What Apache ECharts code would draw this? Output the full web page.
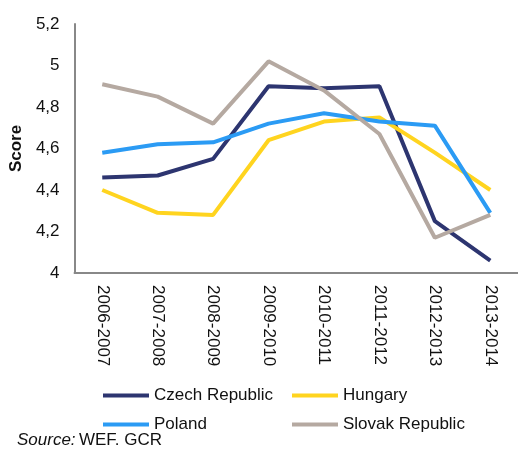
<!DOCTYPE html>
<html>
<head>
<meta charset="utf-8">
<script src="https://cdn.jsdelivr.net/npm/echarts@6/dist/echarts.min.js"></script>
<style>
  html, body { margin: 0; padding: 0; background: #fff; }
  #chart { width: 518px; height: 450px; }
</style>
</head>
<body>
<div id="chart"></div>
<script>
// Competitiveness scores (WEF Global Competitiveness Report)
const seasons = ['2006-2007', '2007-2008', '2008-2009', '2009-2010', '2010-2011', '2011-2012', '2012-2013', '2013-2014'];
const czechRepublic = [4.46, 4.47, 4.55, 4.90, 4.89, 4.90, 4.25, 4.06];
const hungary = [4.40, 4.29, 4.28, 4.64, 4.73, 4.75, 4.58, 4.40];
const poland = [4.58, 4.62, 4.63, 4.72, 4.77, 4.73, 4.71, 4.29];
const slovakRepublic = [4.91, 4.85, 4.72, 5.02, 4.88, 4.67, 4.17, 4.28];

const names = ['Czech Republic', 'Hungary', 'Poland', 'Slovak Republic'];
const values = [czechRepublic, hungary, poland, slovakRepublic];
const colors = ['#2d3570', '#ffd41f', '#2b9bf4', '#b5a9a1'];

const font = 'Liberation Sans, Arial, sans-serif';
const fontSize = 17;

const chart = echarts.init(document.getElementById('chart'));

// One legend block per cell of the 2x2 key
function legendCell(name, left, top) {
  return {
    left: left,
    top: top,
    padding: 0,
    icon: 'rect',
    itemWidth: 46,
    itemHeight: 4,
    itemTextGap: 3,
    data: [name],
    textStyle: { fontFamily: font, fontSize: fontSize, color: '#111' }
  };
}

chart.setOption({
  animation: false,
  color: colors,
  grid: { left: 74, right: -4, top: 24, bottom: 177 },
  legend: [
    legendCell('Czech Republic', 103, 387),
    legendCell('Hungary', 292, 387),
    legendCell('Poland', 103, 416),
    legendCell('Slovak Republic', 292, 416)
  ],
  xAxis: {
    type: 'category',
    data: seasons,
    boundaryGap: true,
    axisLine: { lineStyle: { color: '#888', width: 2 } },
    axisTick: { show: false },
    axisLabel: {
      rotate: -90,
      interval: 0,
      margin: 12,
      fontFamily: font,
      fontSize: fontSize,
      color: '#111'
    }
  },
  yAxis: {
    type: 'value',
    min: 4,
    max: 5.2,
    interval: 0.2,
    name: 'Score',
    nameLocation: 'middle',
    nameGap: 48,
    nameTextStyle: { fontFamily: font, fontSize: fontSize, fontWeight: 'bold', color: '#111' },
    axisLine: { show: true, lineStyle: { color: '#888', width: 2 } },
    axisTick: { show: false },
    splitLine: { show: false },
    axisLabel: {
      margin: 15,
      fontFamily: font,
      fontSize: fontSize,
      color: '#111',
      formatter: v => String(Math.round(v * 10) / 10).replace('.', ',')
    }
  },
  series: names.map((n, i) => ({
    name: n,
    type: 'line',
    data: values[i],
    symbol: 'none',
    lineStyle: { width: 4, color: colors[i] },
    itemStyle: { color: colors[i] }
  })),
  graphic: [{
    type: 'text',
    left: 17,
    top: 432,
    style: {
      text: '{i|Source:} {n|WEF. GCR}',
      rich: {
        i: { fontFamily: font, fontSize: fontSize, fontStyle: 'italic', fill: '#111' },
        n: { fontFamily: font, fontSize: fontSize, fill: '#111' }
      }
    }
  }]
});
</script>
</body>
</html>
